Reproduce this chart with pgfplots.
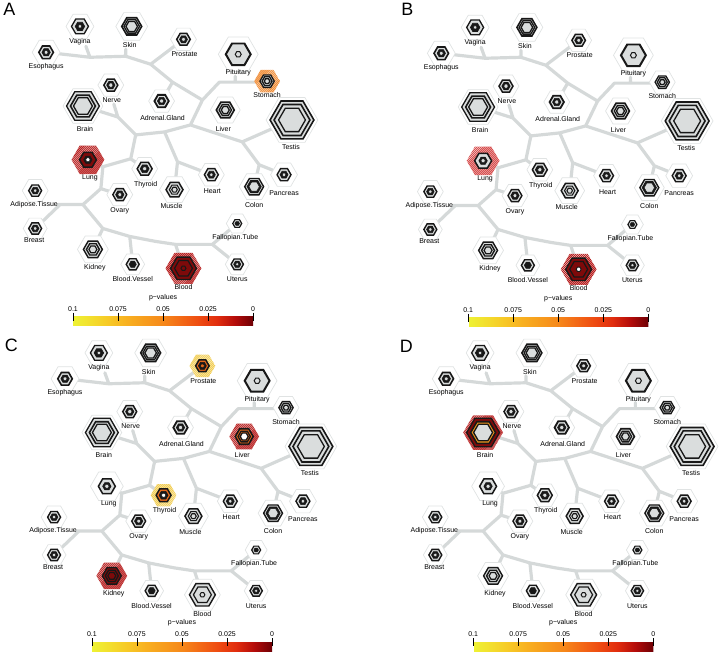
\documentclass[border=0pt]{standalone}
\usepackage{fontspec}
\setmainfont{Liberation Sans}
\usepackage{pgfplots}
\usepackage{pgfplotstable}
\pgfplotsset{compat=1.18}

\definecolor{edge}{HTML}{D5D9D9}
\definecolor{halo}{HTML}{E0E3E3}
\definecolor{body}{HTML}{DADDDD}
\definecolor{ink}{HTML}{181818}
\definecolor{dred}{HTML}{7E0A0A}
\definecolor{orng}{HTML}{E4681A}
\definecolor{orng2}{HTML}{F0961E}
\definecolor{hred}{HTML}{B82020}
\definecolor{hred2}{HTML}{D85050}
\definecolor{horng}{HTML}{F08C35}
\definecolor{hyel}{HTML}{F2CE55}

\newcommand\lf{\fontsize{7}{8}\selectfont}

% flat-top hexagon, radius = mark size
\newcommand\hexpath{%
  \pgfpathmoveto{\pgfpointpolar{0}{\pgfplotmarksize}}%
  \pgfpathlineto{\pgfpointpolar{60}{\pgfplotmarksize}}%
  \pgfpathlineto{\pgfpointpolar{120}{\pgfplotmarksize}}%
  \pgfpathlineto{\pgfpointpolar{180}{\pgfplotmarksize}}%
  \pgfpathlineto{\pgfpointpolar{240}{\pgfplotmarksize}}%
  \pgfpathlineto{\pgfpointpolar{300}{\pgfplotmarksize}}%
  \pgfpathclose}
\pgfdeclareplotmark{hex}{\hexpath\pgfusepathqfillstroke}
\pgfdeclareplotmark{hexhatch}{%
  \pgfscope
  \hexpath
  \pgfsetfillcolor{white}%
  \pgfusepath{fill,clip}%
  \pgfsetlinewidth{1.0pt}%
  \pgfmathtruncatemacro\nh{\pgfplotmarksize/1.4+2}%
  \foreach \k in {-\nh,...,\nh}{%
    \pgfpathmoveto{\pgfpoint{\k*2.0pt-\pgfplotmarksize}{-\pgfplotmarksize}}%
    \pgfpathlineto{\pgfpoint{\k*2.0pt+\pgfplotmarksize}{\pgfplotmarksize}}%
    \pgfusepath{stroke}}%
  \endpgfscope}

% tree branches (panel A pixel coordinates), nan = break
\pgfplotstableread{
x y
43 50
87 55
123 54
148 62
170 80
200 98
188 123
nan nan
83 44
87 55
nan nan
123 47
123 54
nan nan
181 37
148 62
nan nan
159 99
170 80
nan nan
200 98
217 80
265 80
nan nan
233 74
233 80
nan nan
188 123
162 130
133 133
115 115
80 104
nan nan
115 115
111 102
nan nan
188 123
240 140
290 118
nan nan
240 140
257 163
252 185
nan nan
257 163
282 173
nan nan
133 133
128 157
100 165
85 158
nan nan
128 157
142 167
nan nan
100 165
98 187
80 203
55 203
nan nan
98 187
117 193
nan nan
32 227
57 203
nan nan
80 203
100 227
127 235
153 240
173 243
210 243
235 222
nan nan
210 243
235 263
nan nan
100 227
90 248
nan nan
127 235
130 263
nan nan
173 243
181 267
nan nan
162 130
175 160
172 188
nan nan
175 160
209 173
}\edges

% outer halos: x y radius, style per panel
\pgfplotstableread{
x y r hA hB hC hD
43 50 14 h h h h
77 24 14 h h h h
129 24 16 h h h h
181 37 13 h h hY h
236 52 20 h h h h
265 79 13 hO h h h
108 83 13 h h h h
80 104 20 h h h hR
159 99 13 h h h h
223 108 15 h h hR h
290 118 26 h h h h
85 158 16.5 hR hR2 h h
142 167 13 h h hY h
209 173 13 h h h h
172 188 15 h h h h
252 185 15 h h h h
282 173 13.5 h h h h
117 193 13 h h h h
32 189 13 h h h h
32 227 12 h h h h
235 222 11 h h h h
90 248 15.5 h h hR h
130 263 12 h h h h
181 267 18 hR hR h h
235 263 12 h h h h
}\halos

% glyph rings: x y radius linewidth, fill per panel (k = solid black ring)
\pgfplotstableread{
x y r lw cA cB cC cD
43 50 7.3 1.6 g g g g
43 50 4.2 0.6 k k k k
43 50 2.0 0.5 g g g g
77 24 8.5 1.3 g g g g
77 24 4.8 0.6 k k k k
77 24 1.8 0.5 g g g g
129 24 10 1.6 g g g g
129 24 7.8 1.3 g g g g
129 24 5.8 1.3 g g g g
181 37 6.8 1.5 g g o g
181 37 4.0 0.6 k k k k
181 37 2.0 0.5 g g o g
236 52 12.5 2.0 g g g g
236 52 3.0 1.0 g g g g
265 79 7.2 1.3 g g g g
265 79 5.0 1.3 g g g g
265 79 2.8 1.3 g g g g
108 83 7 1.5 g g g g
108 83 4.2 0.6 k k k k
108 83 2.2 0.5 g g g g
80 104 16.5 1.3 g g g dred
80 104 12.5 1.6 g g g o2
80 104 9.5 1.3 g g g g
159 99 7.2 1.8 g g g g
159 99 4.2 0.6 k k k k
159 99 2.2 0.5 g g g g
223 108 9 1.6 g g o g
223 108 6.2 1.3 g g o g
223 108 4 1.3 g g w g
290 118 22 1.6 g g g g
290 118 18 1.6 g g g g
290 118 13.5 1.3 g g g g
85 158 8.5 1.5 dred g g g
85 158 4.2 0.6 k k k k
85 158 2.2 0.5 w g g g
142 167 7.5 1.5 g g o g
142 167 4.5 0.6 k k k k
142 167 2.2 0.5 g g w g
209 173 7 1.4 g g g g
209 173 4.0 0.6 k k k k
209 173 1.8 0.5 g g g g
172 188 8.5 1.5 g g g g
172 188 5.2 1.1 g g g g
172 188 2.8 1.1 g g g g
252 185 9.5 1.4 g g g g
252 185 7.2 0.6 k k k k
252 185 5.2 0.5 g g g g
282 173 7 1.4 g g g g
282 173 4.0 0.6 k k k k
282 173 1.8 0.5 g g g g
117 193 7 1.4 g g g g
117 193 4.2 0.6 k k k k
117 193 2.0 0.5 g g g g
32 189 6.5 1.4 g g g g
32 189 3.8 0.6 k k k k
32 189 1.8 0.5 g g g g
32 227 6.5 1.4 g g g g
32 227 3.8 0.6 k k k k
32 227 1.8 0.5 g g g g
235 222 4.5 1.2 g g g g
235 222 2.3 0.5 k k k k
90 248 9.5 1.4 g g dred g
90 248 6.5 1.4 g g dred g
90 248 4 1.2 g g dred g
130 263 6.5 1.4 g g g g
130 263 3.6 0.5 k k k k
181 267 13 1.4 dred dred g g
181 267 9 1.2 dred dred g g
181 267 2.5 1.0 dred w g g
235 263 6.2 1.4 g g g g
235 263 3.6 0.6 k k k k
235 263 1.6 0.5 g g g g
}\rings

\tikzset{letter/.style={font=\fontsize{18}{18}\selectfont, anchor=center}}

\pgfplotsset{
  colormap={pv}{rgb255=(110,0,5) rgb255=(180,12,10) rgb255=(225,45,14)
    rgb255=(238,75,17) rgb255=(243,105,22) rgb255=(246,136,26) rgb255=(247,156,29)
    rgb255=(248,176,32) rgb255=(247,200,38) rgb255=(243,222,45) rgb255=(238,242,52)},
  hexbase/.style={only marks, scatter, point meta=explicit symbolic,
    scatter/classes={
      h={mark=hex, draw=halo, fill=white, line width=0.7pt},
      hR={mark=hexhatch, draw=hred},
      hR2={mark=hexhatch, draw=hred2},
      hO={mark=hexhatch, draw=horng},
      hY={mark=hexhatch, draw=hyel},
      g={mark=hex, draw=ink, fill=body},
      k={mark=hex, draw=ink, fill=ink},
      dred={mark=hex, draw=ink, fill=dred},
      o={mark=hex, draw=ink, fill=orng},
      o2={mark=hex, draw=ink, fill=orng2},
      w={mark=hex, draw=ink, fill=white}},
    visualization depends on={\thisrow{r}\as\rr},
    scatter/@pre marker code/.append style={/tikz/mark size=\rr}},
  ringlw/.style={visualization depends on={\thisrow{lw}\as\ww},
    scatter/@pre marker code/.append code={\pgfsetlinewidth{\ww pt}}},
  branch/.style={draw=edge, line width=3.2pt, line join=round, line cap=round,
    mark=none, unbounded coords=jump},
  panel/.style={x=1pt, y=1pt, y dir=reverse, scale only axis, clip=false,
    set layers, axis line style={draw=none}, ticks=none, anchor=north west,
    colorbar horizontal, colormap name=pv, point meta min=0, point meta max=0.1,
    colorbar style={scale only axis, width=181pt, height=9pt,
      at={(parent axis.south west)}, anchor=south west,
      x dir=reverse,
      xtick={0,0.025,0.05,0.075,0.1}, xticklabels={0,0.025,0.05,0.075,0.1},
      xticklabel pos=upper, xtick pos=upper,
      tick align=center, major tick length=8pt,
      xtick style={draw=black, line width=0.8pt},
      axis line style={draw=none},
      ticklabel style={font=\lf, inner sep=1pt},
      title={p−values},
      title style={at={(0.5,1)}, anchor=south, yshift=10pt, font=\lf, inner sep=0pt}}},
}

\newcommand\tissuelabels[2]{%
  \begin{pgfonlayer}{axis foreground}
  \node[font=\lf] at (axis cs:77,39) {Vagina};
  \node[font=\lf] at (axis cs:127,43) {Skin};
  \node[font=\lf] at (axis cs:43,64) {Esophagus};
  \node[font=\lf] at (axis cs:182,52) {Prostate};
  \node[font=\lf] at (axis cs:236,71) {Pituitary};
  \node[font=\lf] at (axis cs:265,93) {Stomach};
  \node[font=\lf] at (axis cs:109,98) {Nerve};
  \node[font=\lf] at (axis cs:82,127) {Brain};
  \node[font=\lf] at (axis cs:160,116) {Adrenal.Gland};
  \node[font=\lf] at (axis cs:221,127) {Liver};
  \node[font=\lf] at (axis cs:289,145) {Testis};
  \node[font=\lf] at (axis cs:87,176) {Lung};
  \node[font=\lf] at (axis cs:143,183) {Thyroid};
  \node[font=\lf] at (axis cs:210,189) {Heart};
  \node[font=\lf] at (axis cs:169,204) {Muscle};
  \node[font=\lf] at (axis cs:252,203) {Colon};
  \node[font=\lf] at (axis cs:282,191) {Pancreas};
  \node[font=\lf] at (axis cs:117,209) {Ovary};
  \node[font=\lf] at (axis cs:31,203) {Adipose.Tissue};
  \node[font=\lf] at (axis cs:31,239) {Breast};
  \node[font=\lf] at (axis cs:233,236) {Fallopian.Tube};
  \node[font=\lf] at (axis cs:92,266) {Kidney};
  \node[font=\lf] at (axis cs:130,278) {Blood.Vessel};
  \node[font=\lf] at (axis cs:181,286) {Blood};
  \node[font=\lf] at (axis cs:235,278) {Uterus};
  \node[letter] at (axis cs:#1) {#2};
  \end{pgfonlayer}
}

\begin{document}
\begin{tikzpicture}
% A
\begin{axis}[panel, at={(0pt,0pt)}, xmin=0, xmax=360, ymin=0, ymax=320,
  colorbar style={xshift=70pt, yshift=4pt}]
\addplot[branch] table {\edges};
\addplot[hexbase] table[meta=hA] {\halos};
\addplot[hexbase, ringlw] table[meta=cA] {\rings};
\tissuelabels{6,7}{A}
\end{axis}
% B
\begin{axis}[panel, at={(360pt,0pt)}, xmin=-37, xmax=323, ymin=-1, ymax=319,
  colorbar style={xshift=107pt, yshift=3pt}]
\addplot[branch] table {\edges};
\addplot[hexbase] table[meta=hB] {\halos};
\addplot[hexbase, ringlw] table[meta=cB] {\rings};
\tissuelabels{9,6}{B}
\end{axis}
% C
\begin{axis}[panel, at={(0pt,-320pt)}, xmin=-19, xmax=341, ymin=-8, ymax=315,
  colorbar style={xshift=89pt, yshift=0pt}]
\addplot[branch] table {\edges};
\addplot[hexbase] table[meta=hC] {\halos};
\addplot[hexbase, ringlw] table[meta=cC] {\rings};
\tissuelabels{-11,16}{C}
\end{axis}
% D
\begin{axis}[panel, at={(360pt,-320pt)}, xmin=-42, xmax=318, ymin=-8, ymax=315,
  colorbar style={xshift=112pt, yshift=0pt}]
\addplot[branch] table {\edges};
\addplot[hexbase] table[meta=hD] {\halos};
\addplot[hexbase, ringlw] table[meta=cD] {\rings};
\tissuelabels{3,17}{D}
\end{axis}
\end{tikzpicture}
\end{document}
